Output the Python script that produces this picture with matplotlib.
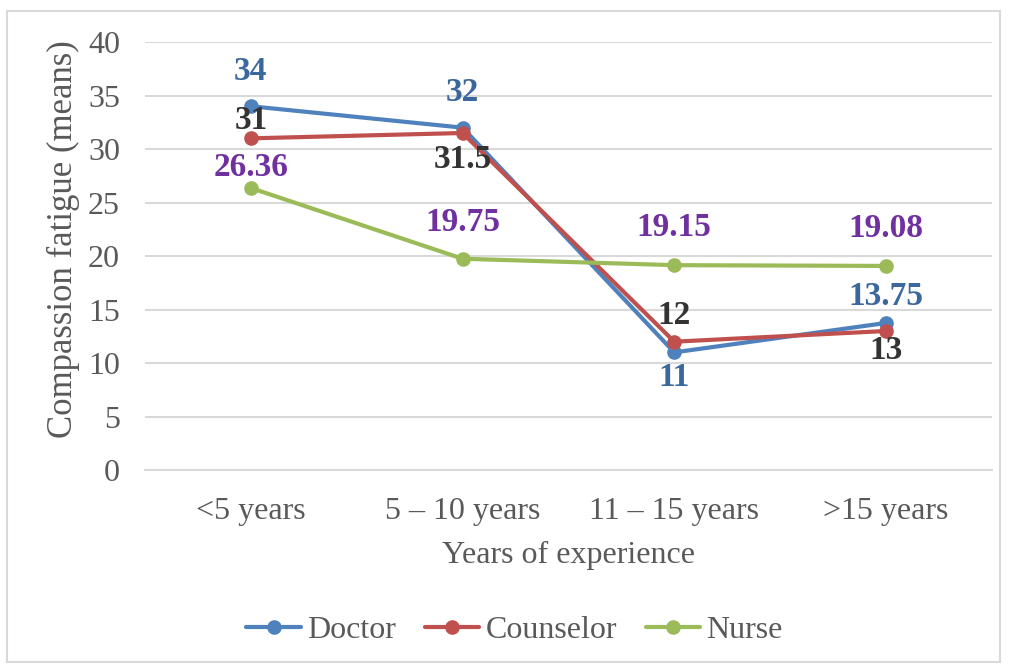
import matplotlib.pyplot as plt
from matplotlib.patches import Rectangle

# Data
categories = ["<5 years", "5 \u2013 10 years", "11 \u2013 15 years", ">15 years"]
doctor = [34, 32, 11, 13.75]
counselor = [31, 31.5, 12, 13]
nurse = [26.36, 19.75, 19.15, 19.08]
doctor_labels = ["34", "32", "11", "13.75"]
counselor_labels = ["31", "31.5", "12", "13"]
nurse_labels = ["26.36", "19.75", "19.15", "19.08"]

# label offsets in points (vertical)
doctor_off = [25, 25, -18, 19]
counselor_off = [13, -19, 19, -14]
nurse_off = [15, 26, 27, 27]

plt.rcParams['font.family'] = ['Liberation Serif', 'DejaVu Serif']

fig = plt.figure(figsize=(10.09, 6.64), dpi=100)
ax = fig.add_axes([0.1437, 0.292, 0.8393, 0.6447])

x = range(len(categories))
series = [
    ("Doctor", doctor, doctor_labels, doctor_off, "#4F81BD", "#3A679C"),
    ("Counselor", counselor, counselor_labels, counselor_off, "#C0504D", "#333333"),
    ("Nurse", nurse, nurse_labels, nurse_off, "#9BBB59", "#7030A0"),
]
for name, vals, labs, offs, col, lcol in series:
    ax.plot(x, vals, color=col, lw=3, marker="o", ms=9.5, label=name,
            solid_capstyle="round")
    for xi, v, lab, off in zip(x, vals, labs, offs):
        ax.annotate(lab, (xi, v), xytext=(0, off), textcoords="offset points",
                    ha="center", va="center", fontsize=24, fontweight="bold",
                    color=lcol)

ax.set_xlim(-0.5, 3.5)
ax.set_ylim(0, 40)
ax.set_yticks(range(0, 41, 5))
ax.set_xticks(list(x))
ax.set_xticklabels(categories)
ax.grid(axis="y", color="#D9D9D9", lw=1.5)
ax.set_axisbelow(True)
for s in ["top", "right", "left"]:
    ax.spines[s].set_visible(False)
ax.spines["bottom"].set_color("#D9D9D9")
ax.spines["bottom"].set_linewidth(1.5)
ax.tick_params(axis="both", length=0, labelsize=23, labelcolor="#595959")
ax.tick_params(axis="y", pad=18)
ax.tick_params(axis="x", pad=19)
ax.set_xlabel("Years of experience", fontsize=23, color="#595959", labelpad=11)
ax.set_ylabel("Compassion fatigue (means)", fontsize=25, color="#595959",
              labelpad=6, y=0.54)

ax.legend(loc="center", bbox_to_anchor=(0.51, 0.05), bbox_transform=fig.transFigure,
          ncol=3, frameon=False, fontsize=23, handlelength=1.7, handletextpad=0.2,
          columnspacing=0.9, labelcolor="#595959")

fig.patches.append(Rectangle((0.007, 0.003), 0.984, 0.98, transform=fig.transFigure,
                             fill=False, edgecolor="#D9D9D9", lw=1.5))

fig.savefig("out.png", dpi=100)
